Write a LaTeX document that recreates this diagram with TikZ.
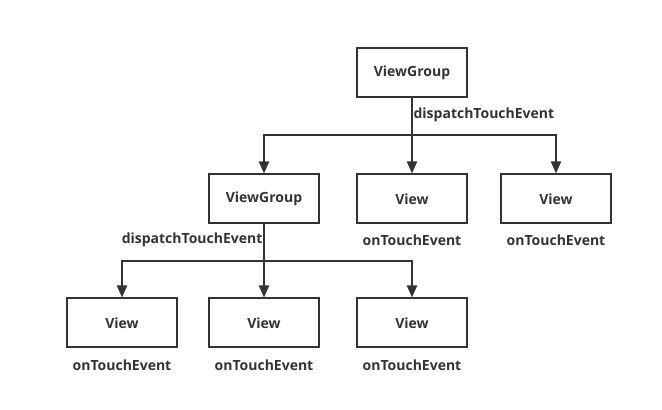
\documentclass[tikz,border=0pt]{standalone}
\usepackage{fontspec}
\setmainfont{Open Sans}
\usetikzlibrary{arrows.meta, positioning}
\definecolor{inkgray}{RGB}{51,51,51}

\begin{document}
\begin{tikzpicture}[x=0.75pt, y=-0.75pt,
  box/.style={draw=inkgray, line width=1.5pt, minimum width=82.5pt, minimum height=36.75pt, text=inkgray, font=\bfseries\fontsize{10.5}{12}\selectfont},
  lbl/.style={text=inkgray, font=\bfseries\fontsize{10.5}{12}\selectfont, inner sep=1pt},
  arr/.style={draw=inkgray, line width=1.5pt, -{Triangle[length=9pt, width=7.5pt]}},
  wire/.style={draw=inkgray, line width=1.5pt}]
  \useasboundingbox (0,0) rectangle (662,410);

  % top level
  \node[box] (root) at (412,72.5) {ViewGroup};

  % second level
  \node[box] (group) at (264,199) {ViewGroup};
  \node[box] (viewA) at (412,199) {View};
  \node[box] (viewB) at (556,199) {View};

  % third level
  \node[box] (viewC) at (122,323) {View};
  \node[box] (viewD) at (264,323) {View};
  \node[box] (viewE) at (412,323) {View};

  \coordinate (split1) at (412,135);
  \coordinate (split2) at (264,261);

  \draw[wire] (root) -- (split1);
  \draw[arr] (split1) -| (group);
  \draw[arr] (split1) -- (viewA);
  \draw[arr] (split1) -| (viewB);

  \draw[wire] (group) -- (split2);
  \draw[arr] (split2) -| (viewC);
  \draw[arr] (split2) -- (viewD);
  \draw[arr] (split2) -| (viewE);

  \node[lbl, anchor=west] (disp1) at (412,115) {dispatchTouchEvent};
  \node[lbl, anchor=east] (disp2) at (264,240) {dispatchTouchEvent};

  \node[lbl] (touchA) at (412,240) {onTouchEvent};
  \node[lbl] (touchB) at (556,240) {onTouchEvent};
  \node[lbl] (touchC) at (122,365) {onTouchEvent};
  \node[lbl] (touchD) at (264,365) {onTouchEvent};
  \node[lbl] (touchE) at (412,365) {onTouchEvent};
\end{tikzpicture}
\end{document}
